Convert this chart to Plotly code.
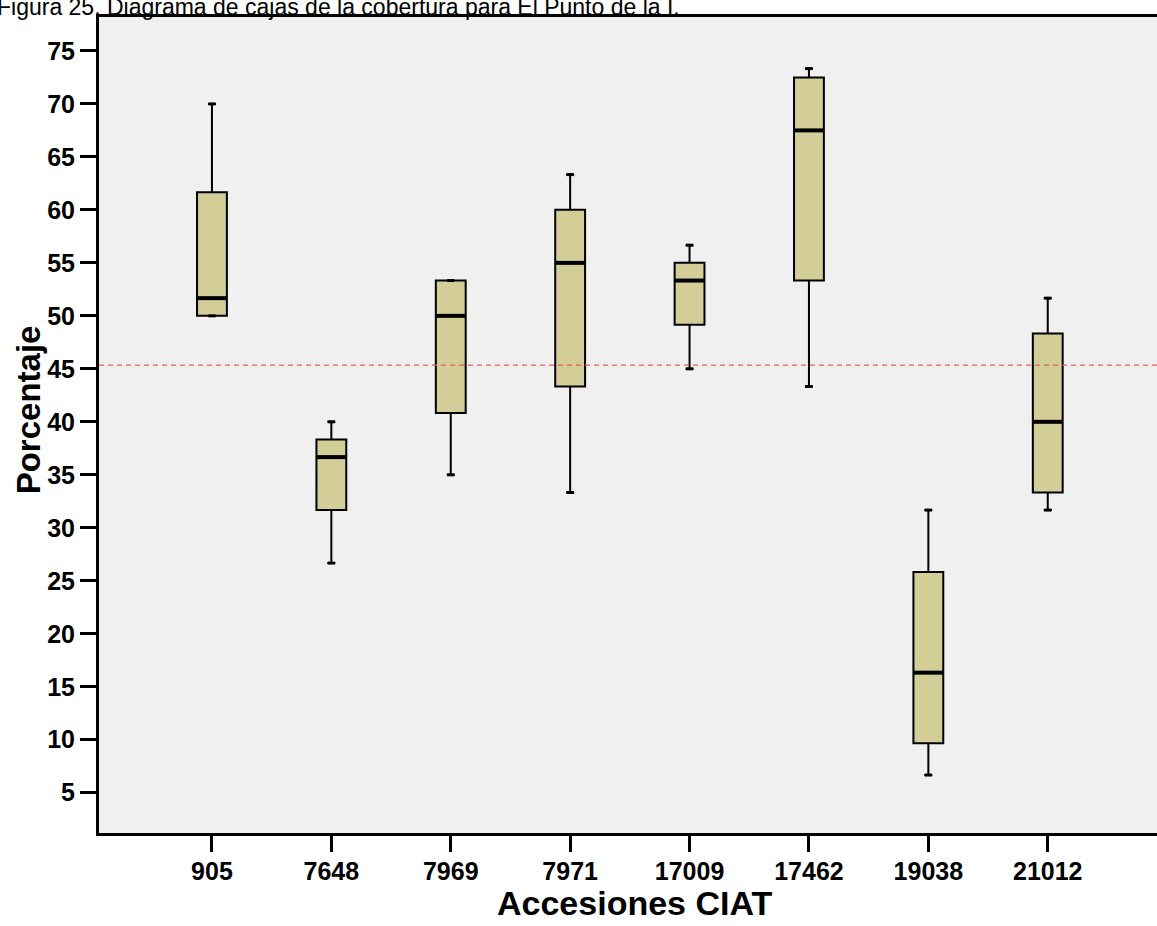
import plotly.graph_objects as go

# ---- data ----
categories = ["905", "7648", "7969", "7971", "17009", "17462", "19038", "21012"]
lower_whisker = [50.0, 26.67, 35.0, 33.33, 45.0, 43.33, 6.67, 31.67]
q1_values = [50.0, 31.67, 40.83, 43.33, 49.17, 53.33, 9.67, 33.33]
medians = [51.67, 36.67, 50.0, 55.0, 53.33, 67.5, 16.33, 40.0]
q3_values = [61.67, 38.33, 53.33, 60.0, 55.0, 72.5, 25.83, 48.33]
upper_whisker = [70.0, 40.0, 53.33, 63.33, 56.67, 73.33, 31.67, 51.67]
reference_line = 45.35
y_ticks = [5, 10, 15, 20, 25, 30, 35, 40, 45, 50, 55, 60, 65, 70, 75]

positions = list(range(len(categories)))
BOX_W = 0.25
FONT = "Liberation Sans, Arial, sans-serif"

fig = go.Figure()

fig.add_trace(go.Box(
    x=positions,
    q1=q1_values,
    median=medians,
    q3=q3_values,
    lowerfence=lower_whisker,
    upperfence=upper_whisker,
    width=BOX_W,
    whiskerwidth=0.27,
    fillcolor="#d3ce97",
    line=dict(color="black", width=2),
    boxpoints=False,
    hoverinfo="skip",
    showlegend=False,
))

# thick median bars
mx, my = [], []
for p, m in zip(positions, medians):
    mx += [p - BOX_W / 2, p + BOX_W / 2, None]
    my += [m, m, None]
fig.add_trace(go.Scatter(
    x=mx, y=my, mode="lines",
    line=dict(color="black", width=4),
    hoverinfo="skip", showlegend=False,
))

# whisker end caps (thicker, as in SPSS)
cx, cy = [], []
for p, lo, hi in zip(positions, lower_whisker, upper_whisker):
    for v in (lo, hi):
        cx += [p - 0.03, p + 0.03, None]
        cy += [v, v, None]
fig.add_trace(go.Scatter(
    x=cx, y=cy, mode="lines",
    line=dict(color="black", width=3),
    hoverinfo="skip", showlegend=False,
))

fig.add_shape(
    type="line", xref="paper", yref="y",
    x0=0, x1=1, y0=reference_line, y1=reference_line,
    line=dict(color="rgb(228,95,85)", width=1.2, dash="5px,4px"),
    layer="above",
)

# figure caption, cut at the top edge as in the reference
fig.add_annotation(
    text="Figura 25. Diagrama de cajas de la cobertura para El Punto de la I.",
    xref="paper", yref="paper", x=0, y=1,
    xanchor="left", yanchor="bottom",
    xshift=-104, yshift=-5,
    showarrow=False,
    font=dict(family=FONT, size=23, color="black"),
)

# axis titles
fig.add_annotation(
    text="Accesiones CIAT",
    xref="paper", yref="paper", x=0.5057, y=0,
    xanchor="center", yanchor="middle", yshift=-70,
    showarrow=False,
    font=dict(family=FONT, size=34, weight="bold", color="black"),
)
fig.add_annotation(
    text="Porcentaje",
    xref="paper", yref="paper", x=0, y=0.518,
    xanchor="center", yanchor="middle", xshift=-71,
    textangle=-90,
    showarrow=False,
    font=dict(family=FONT, size=33, weight="bold", color="black"),
)

fig.update_layout(
    width=1157, height=926,
    margin=dict(l=99, r=0, t=17, b=93),
    paper_bgcolor="white",
    plot_bgcolor="#f0f0f0",
    font=dict(family=FONT, color="black"),
    showlegend=False,
)

fig.update_xaxes(
    range=[-0.946, 7.915],
    tickmode="array",
    tickvals=positions,
    ticktext=categories,
    ticks="outside", ticklen=16, tickwidth=3, tickcolor="black",
    tickfont=dict(family=FONT, size=25, weight="bold", color="black"),
    ticklabelstandoff=-2,
    showline=True, linecolor="black", linewidth=3, mirror=True,
    showgrid=False, zeroline=False,
)

fig.update_yaxes(
    range=[1.2, 78.2],
    tickmode="array",
    tickvals=y_ticks,
    ticks="outside", ticklen=16, tickwidth=3, tickcolor="black",
    tickfont=dict(family=FONT, size=25, weight="bold", color="black"),
    showline=True, linecolor="black", linewidth=3, mirror=False,
    showgrid=False, zeroline=False,
)

fig.write_html(
    "out.html",
    config={"displayModeBar": False},
    post_script="document.body.style.margin='0';document.body.style.overflow='hidden';",
)
